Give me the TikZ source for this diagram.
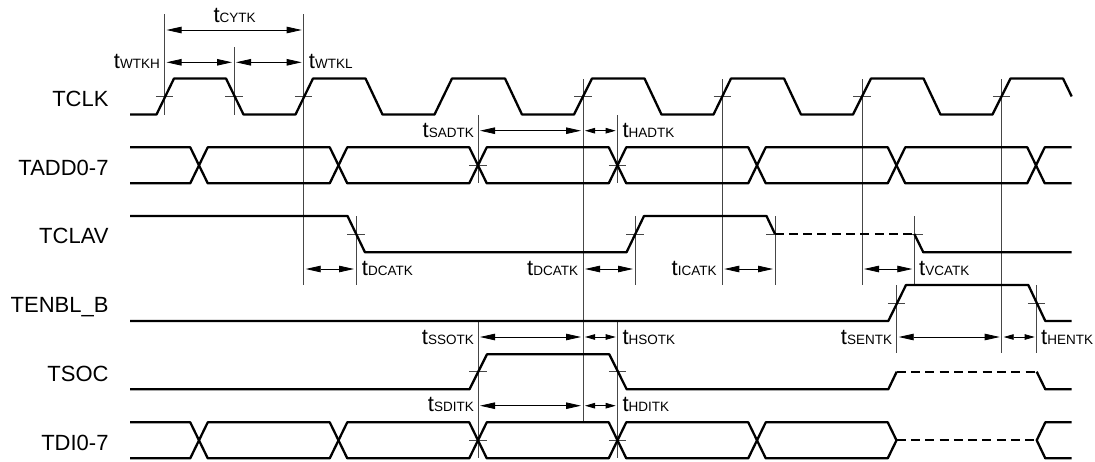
\documentclass[tikz,border=0pt]{standalone}
\usepackage{fontspec}
\setmainfont{Liberation Sans}
\usetikzlibrary{arrows.meta}
\definecolor{refgray}{RGB}{70, 70, 70}
\newcommand{\tlab}[1]{{\fontsize{22}{24}\selectfont t}{\fontsize{13.5}{15}\selectfont #1}}
\tikzset{
  wave/.style={line width=2.3pt, line join=round},
  dashwave/.style={line width=2.3pt, dash pattern=on 9pt off 5.33pt},
  refline/.style={line width=0.9pt, draw=refgray},
  tickmark/.style={line width=0.8pt, draw=refgray},
  dimarrow/.style={line width=0.8pt, {Stealth[length=15pt,width=6.5pt,inset=0pt]}-{Stealth[length=15pt,width=6.5pt,inset=0pt]}, shorten <=2pt, shorten >=2pt},
  dimshort/.style={line width=0.8pt, {Stealth[length=10pt,width=5.5pt,inset=0pt]}-{Stealth[length=10pt,width=5.5pt,inset=0pt]}, shorten <=2pt, shorten >=2pt},
  siglabel/.style={anchor=base east, inner sep=0pt, font=\fontsize{22}{24}\selectfont},
  tleft/.style={anchor=base west, inner sep=0pt},
  tright/.style={anchor=base east, inner sep=0pt}
}

\begin{document}
\begin{tikzpicture}[x=1pt, y=-1pt]
  \useasboundingbox (0,0) rectangle (1095,461);

  % Signal names
  \node[siglabel] (tclk) at (108.7,106.7) {TCLK};
  \node[siglabel] (tadd) at (108.7,175) {TADD0-7};
  \node[siglabel] (tclav) at (108.7,243.5) {TCLAV};
  \node[siglabel] (tenbl) at (108.7,312.7) {TENBL\_B};
  \node[siglabel] (tsoc) at (108.7,381.7) {TSOC};
  \node[siglabel] (tdi) at (108.7,450) {TDI0-7};

  % Reference lines
  \foreach \name/\x/\top/\bot in {
      ra/164.5/14/114.5, rb/234/47/114.5, rc/303.7/14/285, rd/356/216/285,
      re/478/115/183.3, rf/617.7/115/183.3, rg/583/79/421.7, rh/635/216/285,
      ri/722.3/79/285, rj/775/216/285, rk/862/79/285, rl/914.3/216/285,
      rm/1001.7/79/353, rn/896.7/285/353, ro/1036.7/285/353,
      rp/478/321.7/458.3, rq/617.7/321.7/458.3} {
    \coordinate (\name t) at (\x,\top);
    \coordinate (\name b) at (\x,\bot);
    \draw[refline] (\name t) -- (\name b);
  }

  % Threshold ticks
  \foreach \x/\y in {
      164.5/96.5, 234/96.5, 303.7/96.5, 583/96.5, 722.3/96.5, 862/96.5, 1001.7/96.5,
      478/165.3, 617.7/165.3, 356/234, 635/234, 775/234, 914.3/234,
      896.7/303, 1036.7/303, 478/371.7, 617.7/371.7, 478/440.3, 617.7/440.3}
    \draw[tickmark] (\x-8.75,\y) -- (\x+8.75,\y);

  % TCLK
  \draw[wave] (130,114.5) -- (156.5,114.5) -- (174,78.5) -- (226,78.5) -- (243.5,114.5)
    -- (295.5,114.5) -- (313,78.5) -- (365.5,78.5) -- (382.5,114.5)
    -- (434.5,114.5) -- (452,78.5) -- (505,78.5) -- (522,114.5)
    -- (574,114.5) -- (592,78.5) -- (644.5,78.5) -- (661.5,114.5)
    -- (713.5,114.5) -- (731,78.5) -- (784,78.5) -- (801,114.5)
    -- (853,114.5) -- (871,78.5) -- (923.5,78.5) -- (940.5,114.5)
    -- (992.5,114.5) -- (1010.5,78.5) -- (1063,78.5) -- (1071.7,96.5);

  % TADD0-7
  \draw[wave] (130,147.3) -- (190.25,147.3) -- (199,165.3) -- (190.25,183.3) -- (130,183.3);
  \foreach \c/\n in {199/338.5, 338.5/478, 478/617.5, 617.5/757, 757/896.5, 896.5/1036}
    \draw[wave] (\c,165.3) -- (\c+8.75,147.3) -- (\n-8.75,147.3) -- (\n,165.3)
      -- (\n-8.75,183.3) -- (\c+8.75,183.3) -- cycle;
  \draw[wave] (1071.7,147.3) -- (1044.75,147.3) -- (1036,165.3) -- (1044.75,183.3) -- (1071.7,183.3);

  % TCLAV
  \draw[wave] (130,216) -- (347.5,216) -- (365,252.3) -- (626.5,252.3) -- (644,216)
    -- (766.5,216) -- (775,234);
  \draw[dashwave] (774.5,234) -- (914.3,234);
  \draw[wave] (914.3,234) -- (923.3,252.3) -- (1071.7,252.3);

  % TENBL_B
  \draw[wave] (130,321) -- (888.3,321) -- (906,285) -- (1028.3,285) -- (1045.3,321) -- (1071.7,321);

  % TSOC
  \draw[wave] (130,389.3) -- (469.5,389.3) -- (487,354.3) -- (609.3,354.3) -- (626.7,389.3)
    -- (888.3,389.3) -- (896.7,371.7);
  \draw[dashwave] (896.7,371.7) -- (1036.7,371.7);
  \draw[wave] (1036.7,371.7) -- (1045.3,389.3) -- (1071.7,389.3);

  % TDI0-7
  \draw[wave] (130,422.3) -- (190.25,422.3) -- (199,440.3) -- (190.25,458.3) -- (130,458.3);
  \foreach \c/\n in {199/338.5, 338.5/478, 478/617.5, 617.5/757, 757/896.5}
    \draw[wave] (\c,440.3) -- (\c+8.75,422.3) -- (\n-8.75,422.3) -- (\n,440.3)
      -- (\n-8.75,458.3) -- (\c+8.75,458.3) -- cycle;
  \draw[dashwave] (896.5,440.3) -- (1036.7,440.3);
  \draw[wave] (1071.7,422.3) -- (1045.3,422.3) -- (1036.7,440.3) -- (1045.3,458.3) -- (1071.7,458.3);

  % Arrow rows
  \coordinate (rowcy) at (0,30);
  \coordinate (rowwt) at (0,62.3);
  \coordinate (rowad) at (0,130.7);
  \coordinate (rowca) at (0,269);
  \coordinate (rowso) at (0,337);
  \coordinate (rowdi) at (0,405.7);

  % Timing arrows
  \draw[dimarrow] (rat |- rowcy) -- (rct |- rowcy);
  \draw[dimarrow] (rat |- rowwt) -- (rbt |- rowwt);
  \draw[dimarrow] (rbt |- rowwt) -- (rct |- rowwt);
  \draw[dimarrow] (ret |- rowad) -- (rgt |- rowad);
  \draw[dimshort] (rgt |- rowad) -- (rft |- rowad);
  \draw[dimarrow] (rct |- rowca) -- (rdt |- rowca);
  \draw[dimarrow] (rgt |- rowca) -- (rht |- rowca);
  \draw[dimarrow] (rit |- rowca) -- (rjt |- rowca);
  \draw[dimarrow] (rkt |- rowca) -- (rlt |- rowca);
  \draw[dimarrow] (rpt |- rowso) -- (rgt |- rowso);
  \draw[dimshort] (rgt |- rowso) -- (rqt |- rowso);
  \draw[dimarrow] (rnt |- rowso) -- (rmt |- rowso);
  \draw[dimshort] (rmt |- rowso) -- (rot |- rowso);
  \draw[dimarrow] (rpt |- rowdi) -- (rgt |- rowdi);
  \draw[dimshort] (rgt |- rowdi) -- (rqt |- rowdi);

  % Timing labels
  \node[tleft] (tcytk) at (213.3,22) {\tlab{CYTK}};
  \node[tright] (twtkh) at (160,68.3) {\tlab{WTKH}};
  \node[tleft] (twtkl) at (308.7,68.3) {\tlab{WTKL}};
  \node[tright] (tsadtk) at (474,137.7) {\tlab{SADTK}};
  \node[tleft] (thadtk) at (622.3,137.7) {\tlab{HADTK}};
  \node[tleft] (tdcatka) at (361.7,275) {\tlab{DCATK}};
  \node[tright] (tdcatkb) at (578.3,275) {\tlab{DCATK}};
  \node[tright] (ticatk) at (716.7,275) {\tlab{ICATK}};
  \node[tleft] (tvcatk) at (919,275) {\tlab{VCATK}};
  \node[tright] (tssotk) at (474,344) {\tlab{SSOTK}};
  \node[tleft] (thsotk) at (622.3,344) {\tlab{HSOTK}};
  \node[tright] (tsentk) at (892.3,344) {\tlab{SENTK}};
  \node[tleft] (thentk) at (1041,344) {\tlab{HENTK}};
  \node[tright] (tsditk) at (474,411.7) {\tlab{SDITK}};
  \node[tleft] (thditk) at (622.3,411.7) {\tlab{HDITK}};
\end{tikzpicture}
\end{document}
